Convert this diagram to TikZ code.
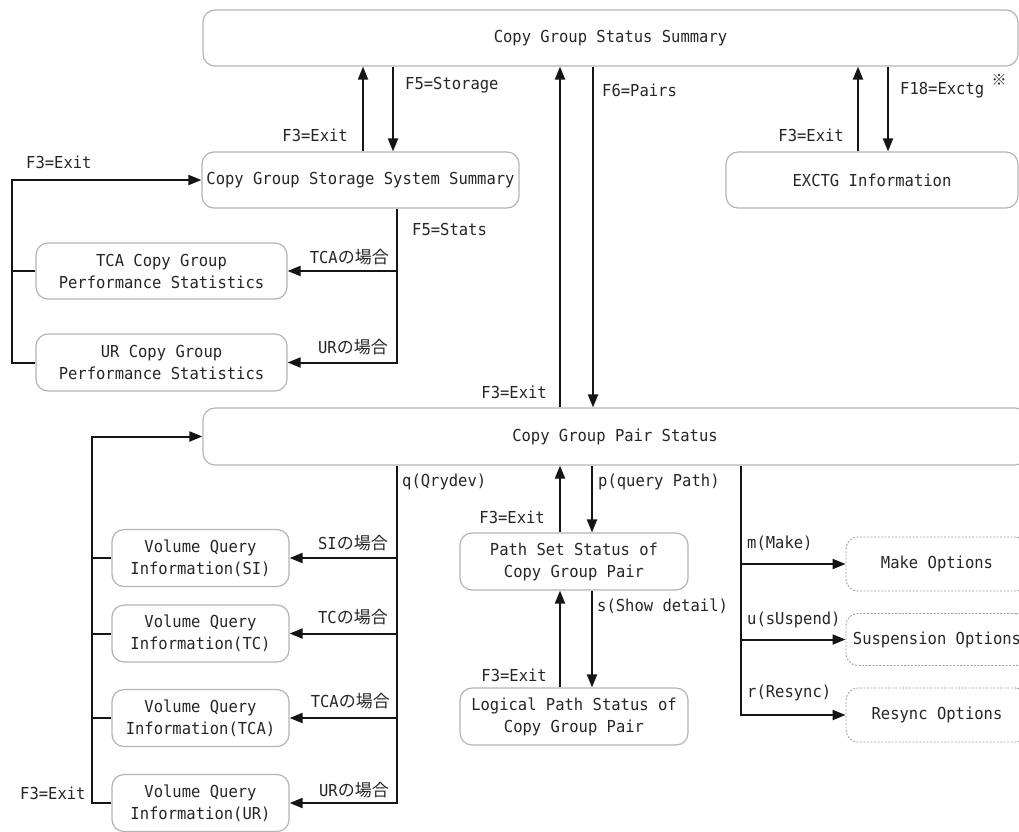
\documentclass[tikz,border=0pt]{standalone}
\usepackage{fontspec}
\usetikzlibrary{arrows.meta,calc}
\newfontfamily\monofont[FakeStretch=0.94]{DejaVu Sans Mono}
\newfontfamily\jpfont{Noto Sans CJK JP}
\newcommand{\jtext}[1]{{\jpfont\fontsize{17}{20}\selectfont #1}}
\definecolor{ink}{HTML}{262626}
\definecolor{wire}{HTML}{151515}
\definecolor{frame}{HTML}{B4B4B4}
\definecolor{dashframe}{HTML}{A0A0A0}
\tikzset{
  screen/.style={draw=frame, line width=1.2pt, rounded corners=12pt, inner sep=0pt,
    align=center, text=ink, font=\monofont\fontsize{16.5}{22}\selectfont},
  optscreen/.style={screen, draw=dashframe, line width=0.9pt, dash pattern=on 2pt off 1.5pt},
  keylabel/.style={inner sep=0pt, text=ink, font=\monofont\fontsize{16.5}{20}\selectfont},
  link/.style={draw=wire, line width=2pt},
  arr/.style={link, -{Triangle[length=13pt,width=10pt]}},
}
\begin{document}
\begin{tikzpicture}[x=1pt,y=-1pt]
\useasboundingbox (0,0) rectangle (1019,831);
\fill[white] (0,0) rectangle (1019,831);
\clip (0,0) rectangle (1019,831);

% screens
\node[screen, minimum width=815, minimum height=56] (summary) at (610.5,38) {Copy Group Status Summary};
\node[screen, minimum width=317, minimum height=56] (storage) at (360.5,180) {Copy Group Storage System Summary};
\node[screen, minimum width=292, minimum height=56] (exctg) at (872,180) {EXCTG Information};
\node[screen, minimum width=251, minimum height=56] (tcastat) at (161.5,271) {TCA Copy Group\\Performance Statistics};
\node[screen, minimum width=251, minimum height=57] (urstat) at (161.5,362.5) {UR Copy Group\\Performance Statistics};
\node[screen, minimum width=824, minimum height=57] (pair) at (615,436.5) {Copy Group Pair Status};
\node[screen, minimum width=177, minimum height=57] (vqsi) at (200.5,558) {Volume Query\\Information(SI)};
\node[screen, minimum width=177, minimum height=57] (vqtc) at (200.5,633.5) {Volume Query\\Information(TC)};
\node[screen, minimum width=177, minimum height=57] (vqtca) at (200.5,718) {Volume Query\\Information(TCA)};
\node[screen, minimum width=177, minimum height=57] (vqur) at (200.5,803) {Volume Query\\Information(UR)};
\node[screen, minimum width=228, minimum height=57] (pathset) at (574,561.5) {Path Set Status of\\Copy Group Pair};
\node[screen, minimum width=228, minimum height=57] (logical) at (574,716.5) {Logical Path Status of\\Copy Group Pair};
\node[optscreen, minimum width=182, minimum height=54] (make) at (937,564) {Make Options};
\node[optscreen, minimum width=182, minimum height=52] (susp) at (937,639.5) {Suspension Options};
\node[optscreen, minimum width=182, minimum height=54] (resync) at (937,715) {Resync Options};

% summary <-> storage system summary
\draw[arr] ([xshift=2.5]storage.north) -- ([xshift=2.5]storage.north |- summary.south);
\draw[arr] ([xshift=32.5]storage.north |- summary.south) -- ([xshift=32.5]storage.north);
% summary <-> pair status
\draw[arr] ([xshift=-55]pair.north) -- ([xshift=-55]pair.north |- summary.south);
\draw[arr] ([xshift=-22]pair.north |- summary.south) -- ([xshift=-22]pair.north);
% summary <-> EXCTG
\draw[arr] ([xshift=-14]exctg.north) -- ([xshift=-14]exctg.north |- summary.south);
\draw[arr] ([xshift=16]exctg.north |- summary.south) -- ([xshift=16]exctg.north);

% statistics branch
\draw[arr] ([xshift=36.5]storage.south) |- (urstat.east);
\draw[arr] ([xshift=36.5]storage.south |- tcastat.east) -- (tcastat.east);
% statistics return path
\draw[arr] (urstat.west) -- ++(-23,0) |- (storage.west);
\draw[link] (tcastat.west) -- ++(-23,0);

% volume query branch
\draw[arr] ([xshift=-218]pair.south) |- (vqur.east);
\draw[arr] ([xshift=-218]pair.south |- vqsi.east) -- (vqsi.east);
\draw[arr] ([xshift=-218]pair.south |- vqtc.east) -- (vqtc.east);
\draw[arr] ([xshift=-218]pair.south |- vqtca.east) -- (vqtca.east);
% volume query return path
\draw[arr] (vqur.west) -- ++(-19,0) |- (pair.west);
\draw[link] (vqsi.west) -- ++(-19,0);
\draw[link] (vqtc.west) -- ++(-19,0);
\draw[link] (vqtca.west) -- ++(-19,0);

% path status chain
\draw[arr] ([xshift=-14]pathset.north) -- ([xshift=-14]pathset.north |- pair.south);
\draw[arr] ([xshift=18]pathset.north |- pair.south) -- ([xshift=18]pathset.north);
\draw[arr] ([xshift=-14]logical.north) -- ([xshift=-14]logical.north |- pathset.south);
\draw[arr] ([xshift=18]logical.north |- pathset.south) -- ([xshift=18]logical.north);

% option screens
\draw[arr] ([xshift=126]pair.south) |- (resync.west);
\draw[arr] ([xshift=126]pair.south |- make.west) -- (make.west);
\draw[arr] ([xshift=126]pair.south |- susp.west) -- (susp.west);

% key labels
\node[keylabel, anchor=west] (kstorage) at (405,85) {F5=Storage};
\node[keylabel, anchor=east] (kexit1) at (348,135) {F3=Exit};
\node[keylabel, anchor=west] (kexit2) at (26,162) {F3=Exit};
\node[keylabel, anchor=west] (kstats) at (412,229) {F5=Stats};
\node[keylabel, anchor=east] (ktcastat) at (389,257) {TCA\jtext{の場合}};
\node[keylabel, anchor=east] (kurstat) at (388,347) {UR\jtext{の場合}};
\node[keylabel, anchor=west] (kpairs) at (602,90) {F6=Pairs};
\node[keylabel, anchor=east] (kexit3) at (844,135) {F3=Exit};
\node[keylabel, anchor=west] (kexctg) at (900,90) {F18=Exctg};
\node[inner sep=0pt, text=ink] (knote) at (999,80) {\jpfont\fontsize{15}{15}\selectfont ※};
\node[keylabel, anchor=east] (kexit4) at (547,392) {F3=Exit};
\node[keylabel, anchor=west] (kqry) at (402,482) {q(Qrydev)};
\node[keylabel, anchor=east] (ksi) at (388,543) {SI\jtext{の場合}};
\node[keylabel, anchor=east] (ktc) at (388,617) {TC\jtext{の場合}};
\node[keylabel, anchor=east] (ktca) at (390,701) {TCA\jtext{の場合}};
\node[keylabel, anchor=east] (kur) at (389,790) {UR\jtext{の場合}};
\node[keylabel, anchor=west] (kexit5) at (20,793) {F3=Exit};
\node[keylabel, anchor=west] (kpath) at (598,482) {p(query Path)};
\node[keylabel, anchor=east] (kexit6) at (545,517) {F3=Exit};
\node[keylabel, anchor=west] (kshow) at (597,606) {s(Show detail)};
\node[keylabel, anchor=east] (kexit7) at (547,675) {F3=Exit};
\node[keylabel, anchor=west] (kmake) at (747,543) {m(Make)};
\node[keylabel, anchor=west] (ksusp) at (747,620) {u(sUspend)};
\node[keylabel, anchor=west] (kresync) at (747,693) {r(Resync)};
\end{tikzpicture}
\end{document}
